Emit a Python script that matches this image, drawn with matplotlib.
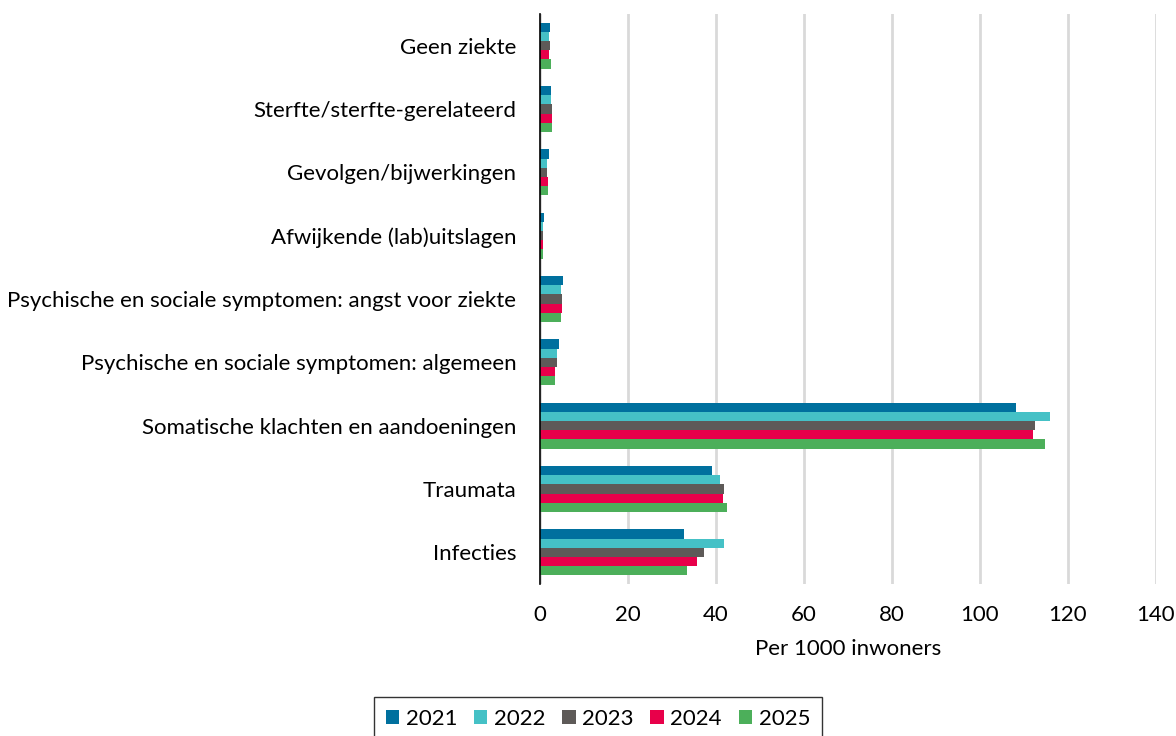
import matplotlib
matplotlib.use("Agg")
import matplotlib.pyplot as plt
import numpy as np

categories = ["Geen ziekte", "Sterfte/sterfte-gerelateerd", "Gevolgen/bijwerkingen",
              "Afwijkende (lab)uitslagen",
              "Psychische en sociale symptomen: angst voor ziekte",
              "Psychische en sociale symptomen: algemeen",
              "Somatische klachten en aandoeningen", "Traumata", "Infecties"]
years = ["2021", "2022", "2023", "2024", "2025"]
v2021 = [2.3, 2.6, 2.0, 0.8, 5.3, 4.25, 108.2, 39.1, 32.8]
v2022 = [2.0, 2.5, 1.6, 0.75, 4.8, 3.8, 116.0, 41.0, 41.9]
v2023 = [2.3, 2.7, 1.7, 0.75, 5.0, 3.8, 112.4, 41.8, 37.3]
v2024 = [2.0, 2.7, 1.75, 0.7, 5.0, 3.5, 112.1, 41.5, 35.7]
v2025 = [2.5, 2.8, 1.8, 0.75, 4.85, 3.3, 114.7, 42.6, 33.5]
series = [v2021, v2022, v2023, v2024, v2025]
colors = ["#00709E", "#45C1C6", "#5E5A58", "#E8004A", "#4CAF5A"]
xticks = [0, 20, 40, 60, 80, 100, 120, 140]

plt.rcParams['font.family'] = ['Lato', 'DejaVu Sans']

fig = plt.figure(figsize=(11.76, 7.36), dpi=100)
ax = fig.add_axes([540/1176, 1-584/736, (1156-540)/1176, (584-14)/736])

y = np.arange(len(categories))
h = 0.145
for i, (vals, c, yr) in enumerate(zip(series, colors, years)):
    ax.barh(y + (i - 2) * h, vals, height=h, color=c, label=yr,
            linewidth=0, zorder=3)

ax.set_ylim(len(categories) - 0.5, -0.5)
ax.set_xlim(0, 140)
ax.set_yticks(y)
ax.set_yticklabels(categories, fontsize=16)
ax.set_xticks(xticks)
ax.set_xticklabels([str(t) for t in xticks], fontsize=16)
ax.tick_params(axis='both', length=0)
ax.tick_params(axis='x', pad=15)
ax.tick_params(axis='y', pad=17)
ax.xaxis.grid(True, color='#D9D9D9', linewidth=2)
ax.set_axisbelow(True)
for s in ['top', 'right', 'bottom']:
    ax.spines[s].set_visible(False)
ax.spines['left'].set_color('black')
ax.spines['left'].set_linewidth(1.2)
ax.spines['left'].set_zorder(5)
ax.set_xlabel("Per 1000 inwoners", fontsize=16, labelpad=10)

leg = fig.legend(loc='upper center', bbox_to_anchor=(598/1176, 1-690/736), ncol=5,
                 fontsize=16, frameon=True, fancybox=False, edgecolor='black',
                 handlelength=0.6, handleheight=0.6, handletextpad=0.3,
                 columnspacing=0.75, borderpad=0.55, borderaxespad=0.3)
leg.get_frame().set_linewidth(1.0)

fig.savefig("out.png", dpi=100)
